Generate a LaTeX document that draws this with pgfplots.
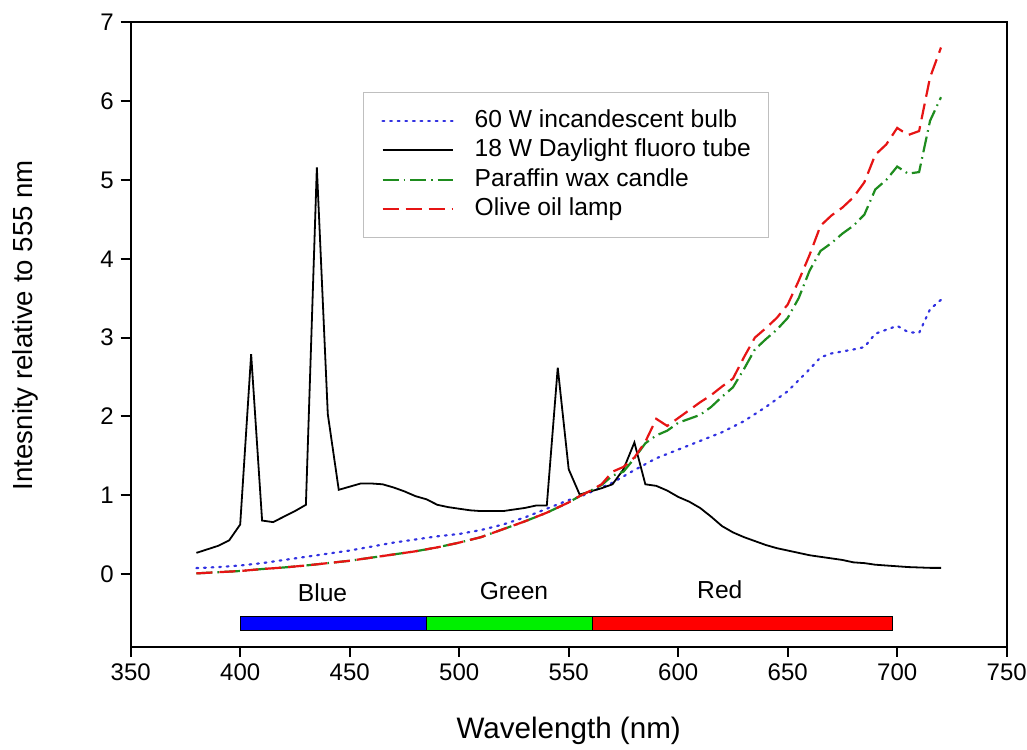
\documentclass[border=0pt]{standalone}
\usepackage{fontspec}
\setmainfont{Liberation Sans}
\usepackage{pgfplots}
\pgfplotsset{compat=1.18}
\definecolor{cblue}{RGB}{50,50,225}
\definecolor{cgreen}{RGB}{30,140,30}
\definecolor{cred}{RGB}{230,20,20}
\definecolor{barblue}{RGB}{0,0,255}
\definecolor{bargreen}{RGB}{0,240,0}
\definecolor{barred}{RGB}{255,0,0}
\begin{document}
\begin{tikzpicture}
\useasboundingbox (-65.35pt,-51.15pt) rectangle (448.15pt,323.35pt);
\begin{axis}[
  at={(0,0)}, anchor=south west,
  scale only axis, width=438pt, height=312.2pt,
  xmin=350, xmax=750, ymin=-0.92, ymax=7,
  xtick={350,400,...,750}, ytick={0,1,...,7},
  tick align=outside, tick pos=left,
  major tick length=5pt,
  axis line style={line width=1pt},
  every tick/.style={line width=1pt, black},
  /pgf/number format/assume math mode=true,
  tick label style={font=\fontsize{12}{14}\selectfont},
  xlabel={Wavelength (nm)},
  ylabel={Intesnity relative to 555 nm},
  xlabel style={font=\fontsize{14.8}{17}\selectfont, at={([yshift=-45.65pt]axis description cs:0.5,0)}, anchor=base},
  ylabel style={font=\fontsize{13.8}{16}\selectfont, at={([xshift=-48.85pt]axis description cs:0,0.515)}, anchor=base},
  legend image code/.code={\draw[#1] (0pt,0pt) -- (35pt,0pt);},
  legend cell align=left,
  legend style={at={(axis description cs:0.265,0.888)}, anchor=north west,
    draw=black!25, line width=0.6pt, font=\fontsize{12.3}{14}\selectfont,
    nodes={inner sep=0pt, text height=9.2pt, text depth=2.8pt},
    row sep=2.75pt, column sep=10.5pt, inner xsep=9pt, inner ysep=8pt},
]
% colour bar
\addplot[forget plot, fill=barblue, draw=black, line width=0.5pt] coordinates {(400,-0.54) (485,-0.54) (485,-0.71) (400,-0.71)} -- cycle;
\addplot[forget plot, fill=bargreen, draw=black, line width=0.5pt] coordinates {(485,-0.54) (561,-0.54) (561,-0.71) (485,-0.71)} -- cycle;
\addplot[forget plot, fill=barred, draw=black, line width=0.5pt] coordinates {(561,-0.54) (698,-0.54) (698,-0.71) (561,-0.71)} -- cycle;

% 60 W incandescent
\addplot[cblue, line width=1.1pt, dash pattern=on 0.9pt off 2.9pt, line cap=round] coordinates {
(380,0.077) (390,0.09) (400,0.11) (410,0.14) (420,0.18) (430,0.22) (440,0.26) (450,0.30)
(460,0.35) (470,0.40) (480,0.44) (490,0.48) (500,0.51) (510,0.56) (520,0.63) (530,0.72)
(540,0.83) (550,0.94) (555,0.98) (560,1.04) (570,1.16) (580,1.32) (590,1.47) (600,1.58)
(610,1.69) (620,1.80) (630,1.94) (640,2.12) (650,2.32) (660,2.60) (665,2.75) (670,2.80)
(680,2.85) (685,2.88) (690,3.05) (695,3.10) (700,3.15) (705,3.07) (710,3.06) (715,3.36) (720,3.48)};
\addlegendentry{60 W incandescent bulb}

% 18 W fluoro
\addplot[black, line width=0.9pt] coordinates {
(380,0.27) (390,0.36) (395,0.43) (400,0.63) (405,2.79) (410,0.68) (415,0.66) (420,0.73)
(425,0.80) (430,0.88) (435,5.16) (440,2.03) (445,1.07) (450,1.11) (455,1.15) (460,1.15)
(465,1.14) (470,1.10) (475,1.05) (480,0.99) (485,0.95) (490,0.88) (495,0.85) (500,0.83)
(505,0.81) (510,0.80) (515,0.80) (520,0.80) (525,0.82) (530,0.84) (535,0.87) (540,0.87)
(545,2.62) (550,1.33) (555,1.01) (560,1.05) (565,1.09) (570,1.14) (575,1.33) (580,1.67)
(585,1.14) (590,1.12) (595,1.06) (600,0.98) (605,0.92) (610,0.84) (615,0.73) (620,0.61)
(625,0.53) (630,0.47) (635,0.42) (640,0.37) (645,0.33) (650,0.30) (655,0.27) (660,0.24)
(665,0.22) (670,0.20) (675,0.18) (680,0.15) (685,0.14) (690,0.12) (695,0.11) (700,0.10)
(705,0.09) (710,0.085) (715,0.08) (720,0.08)};
\addlegendentry{18 W Daylight fluoro tube}

% Paraffin wax candle
\addplot[cgreen, line width=1.1pt, dash pattern=on 8pt off 2.5pt on 0.8pt off 2.5pt] coordinates {
(380,0.01) (390,0.025) (400,0.04) (410,0.065) (420,0.085) (430,0.11) (440,0.14) (450,0.17)
(460,0.21) (470,0.25) (480,0.29) (490,0.34) (500,0.40) (510,0.47) (520,0.57) (530,0.67)
(540,0.78) (550,0.91) (555,0.99) (560,1.06) (565,1.13) (570,1.25) (575,1.30) (580,1.47)
(585,1.66) (590,1.76) (595,1.82) (600,1.92) (605,1.97) (610,2.02) (615,2.12) (620,2.25)
(625,2.37) (630,2.60) (635,2.85) (640,2.98) (645,3.10) (650,3.25) (655,3.50) (660,3.85)
(665,4.10) (670,4.20) (675,4.32) (680,4.42) (685,4.56) (690,4.88) (695,5.00) (700,5.17)
(705,5.08) (710,5.10) (715,5.75) (720,6.05)};
\addlegendentry{Paraffin wax candle}

% Olive oil lamp
\addplot[cred, line width=1.1pt, dash pattern=on 8pt off 3.5pt] coordinates {
(380,0.01) (390,0.025) (400,0.04) (410,0.065) (420,0.085) (430,0.11) (440,0.14) (450,0.17)
(460,0.21) (470,0.25) (480,0.29) (490,0.34) (500,0.40) (510,0.47) (520,0.57) (530,0.67)
(540,0.78) (550,0.91) (555,0.99) (560,1.06) (565,1.14) (570,1.30) (575,1.36) (580,1.48)
(585,1.68) (590,1.97) (595,1.88) (600,1.98) (605,2.08) (610,2.18) (615,2.27) (620,2.38)
(625,2.48) (630,2.75) (635,3.00) (640,3.12) (645,3.25) (650,3.42) (655,3.72) (660,4.05)
(665,4.42) (670,4.55) (675,4.65) (680,4.78) (685,4.97) (690,5.32) (695,5.45) (700,5.66)
(705,5.57) (710,5.62) (715,6.30) (720,6.68)};
\addlegendentry{Olive oil lamp}

\node[anchor=base, font=\fontsize{12.3}{14}\selectfont] at (axis cs:437.6,-0.345) {Blue};
\node[anchor=base, font=\fontsize{12.3}{14}\selectfont] at (axis cs:525,-0.325) {Green};
\node[anchor=base, font=\fontsize{12.3}{14}\selectfont] at (axis cs:619,-0.31) {Red};
\end{axis}
\end{tikzpicture}
\end{document}
